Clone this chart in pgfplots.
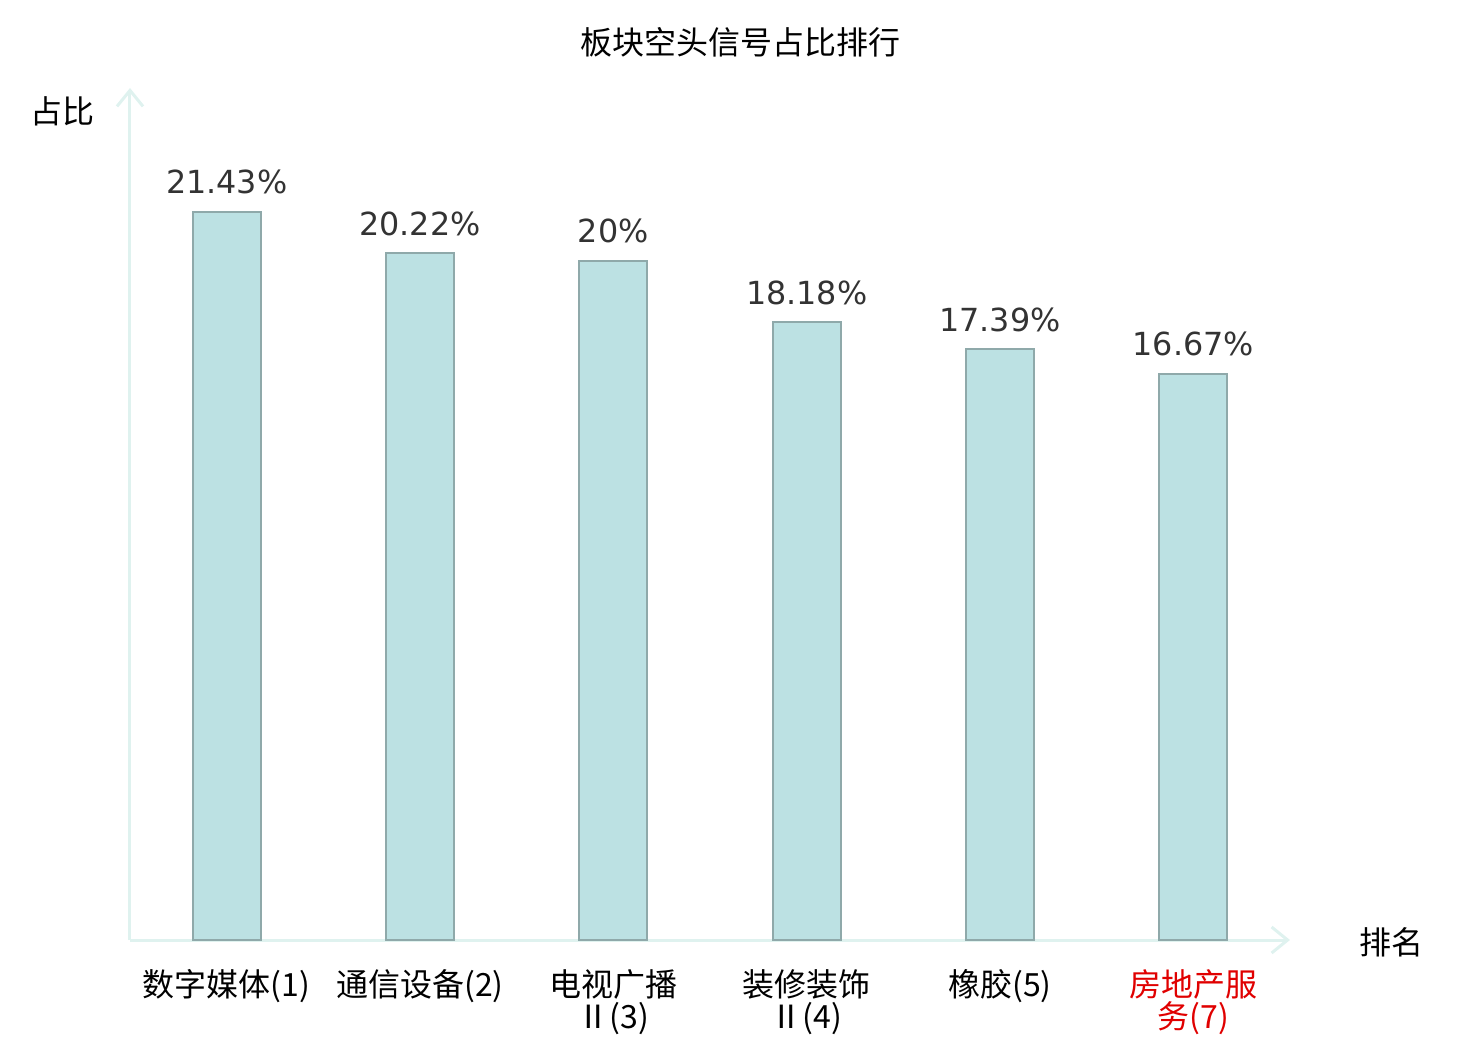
\documentclass[border=0pt]{standalone}
\usepackage{pgfplots}
\pgfplotsset{compat=1.18}
\usepackage{fontspec}
\setmainfont{DejaVu Sans}
\newfontfamily\cjk{Noto Sans CJK SC}
\usetikzlibrary{arrows.meta}
\definecolor{barfill}{HTML}{BCE1E3}
\definecolor{barline}{HTML}{8FA9AA}
\definecolor{axiscol}{HTML}{DFF2EF}
\definecolor{lbl}{HTML}{333333}
\definecolor{redlbl}{HTML}{E00000}
\begin{document}
\begin{tikzpicture}
\useasboundingbox (-65pt,-50pt) rectangle (675pt,470pt);
\begin{axis}[
  at={(0,0)}, anchor=south west,
  scale only axis, width=580pt, height=426pt,
  xmin=-0.5, xmax=5.5, ymin=0, ymax=25.08,
  axis lines=left,
  axis line style={color=axiscol, line width=1.5pt, -{Straight Barb[length=8pt,width=13pt,line width=1.5pt]}},
  ytick=\empty,
  xtick=data,
  major tick length=0pt,
  xticklabels={{数字媒体(1)},{通信设备(2)},{电视广播\\Ⅱ(3)},{装修装饰\\Ⅱ(4)},{橡胶(5)},{\textcolor{redlbl}{房地产服}\\\textcolor{redlbl}{务(7)}}},
  xticklabel style={font=\cjk\fontsize{16}{16}\selectfont, align=center, anchor=north, inner sep=0pt, yshift=-14.5pt},
  xlabel={排名},
  every axis x label/.style={at={(rel axis cs:1,0)}, anchor=center, xshift=51pt, yshift=-1pt, font=\cjk\fontsize{16}{16}\selectfont},
  ylabel={占比},
  every axis y label/.style={at={(rel axis cs:0,1)}, anchor=center, xshift=-33.5pt, yshift=-11.5pt, font=\cjk\fontsize{16}{16}\selectfont},
  title={板块空头信号占比排行},
  every axis title/.style={at={(rel axis cs:0.5259,1)}, anchor=center, yshift=23pt, font=\cjk\fontsize{16}{16}\selectfont},
  ybar, bar width=34pt,
  point meta=explicit symbolic,
  nodes near coords={\pgfplotspointmeta\%},
  every node near coord/.append style={anchor=base, inner sep=0pt, yshift=9pt, font=\fontsize{15.9}{16}\selectfont, text=lbl},
  clip=false,
]
\addplot[fill=barfill, draw=barline, line width=1pt] coordinates {
  (0,21.43) [21.43]
  (1,20.22) [20.22]
  (2,20) [20]
  (3,18.18) [18.18]
  (4,17.39) [17.39]
  (5,16.67) [16.67]
};
\end{axis}
\end{tikzpicture}
\end{document}
